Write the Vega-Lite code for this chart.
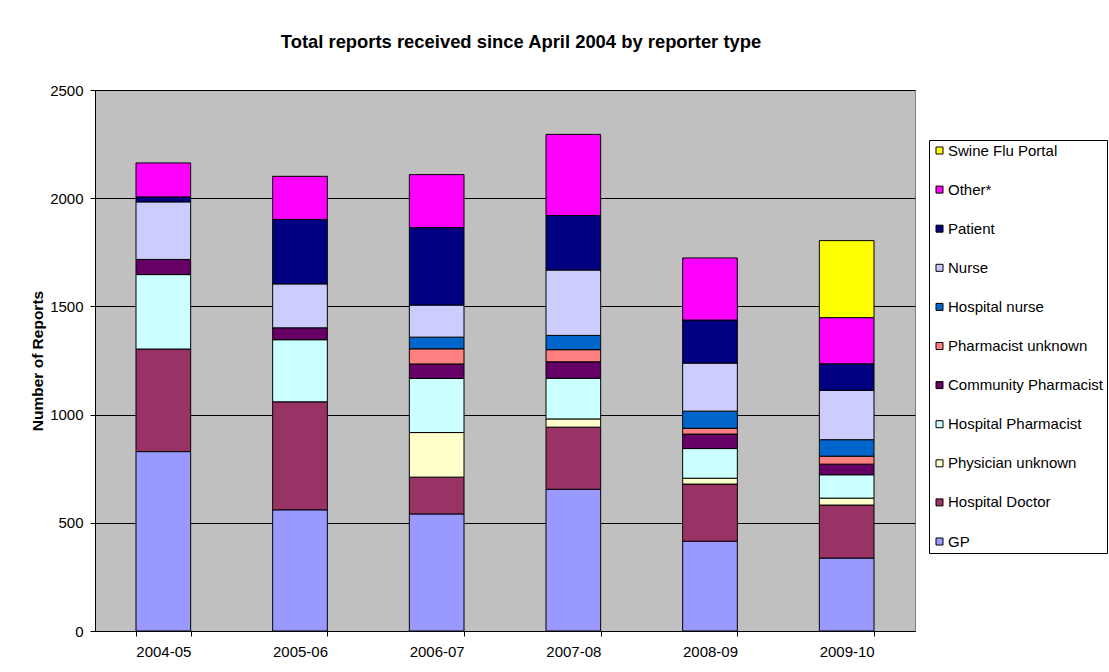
{
  "$schema": "https://vega.github.io/schema/vega-lite/v6.json",
  "width": 820,
  "height": 541,
  "autosize": {"type": "none"},
  "padding": {"left": 95, "top": 90, "right": 194, "bottom": 41},
  "background": "white",
  "title": {
    "text": "Total reports received since April 2004 by reporter type",
    "font": "Liberation Sans",
    "fontSize": 18.4,
    "fontWeight": "bold",
    "color": "black",
    "anchor": "middle",
    "offset": 32,
    "dx": 16
  },
  "datasets": {
    "types": [
      {"type": "GP", "rank": 1},
      {"type": "Hospital Doctor", "rank": 2},
      {"type": "Physician unknown", "rank": 3},
      {"type": "Hospital Pharmacist", "rank": 4},
      {"type": "Community Pharmacist", "rank": 5},
      {"type": "Pharmacist unknown", "rank": 6},
      {"type": "Hospital nurse", "rank": 7},
      {"type": "Nurse", "rank": 8},
      {"type": "Patient", "rank": 9},
      {"type": "Other*", "rank": 10},
      {"type": "Swine Flu Portal", "rank": 11}
    ]
  },
  "data": {
    "values": [
      {"year": "2004-05", "type": "GP", "n": 829},
      {"year": "2004-05", "type": "Hospital Doctor", "n": 474},
      {"year": "2004-05", "type": "Hospital Pharmacist", "n": 344},
      {"year": "2004-05", "type": "Community Pharmacist", "n": 70},
      {"year": "2004-05", "type": "Nurse", "n": 266},
      {"year": "2004-05", "type": "Patient", "n": 23},
      {"year": "2004-05", "type": "Other*", "n": 157},
      {"year": "2005-06", "type": "GP", "n": 560},
      {"year": "2005-06", "type": "Hospital Doctor", "n": 499},
      {"year": "2005-06", "type": "Hospital Pharmacist", "n": 287},
      {"year": "2005-06", "type": "Community Pharmacist", "n": 55},
      {"year": "2005-06", "type": "Nurse", "n": 203},
      {"year": "2005-06", "type": "Patient", "n": 298},
      {"year": "2005-06", "type": "Other*", "n": 199},
      {"year": "2006-07", "type": "GP", "n": 541},
      {"year": "2006-07", "type": "Hospital Doctor", "n": 170},
      {"year": "2006-07", "type": "Physician unknown", "n": 206},
      {"year": "2006-07", "type": "Hospital Pharmacist", "n": 250},
      {"year": "2006-07", "type": "Community Pharmacist", "n": 67},
      {"year": "2006-07", "type": "Pharmacist unknown", "n": 70},
      {"year": "2006-07", "type": "Hospital nurse", "n": 54},
      {"year": "2006-07", "type": "Nurse", "n": 148},
      {"year": "2006-07", "type": "Patient", "n": 358},
      {"year": "2006-07", "type": "Other*", "n": 245},
      {"year": "2007-08", "type": "GP", "n": 655},
      {"year": "2007-08", "type": "Hospital Doctor", "n": 287},
      {"year": "2007-08", "type": "Physician unknown", "n": 38},
      {"year": "2007-08", "type": "Hospital Pharmacist", "n": 188},
      {"year": "2007-08", "type": "Community Pharmacist", "n": 76},
      {"year": "2007-08", "type": "Pharmacist unknown", "n": 56},
      {"year": "2007-08", "type": "Hospital nurse", "n": 66},
      {"year": "2007-08", "type": "Nurse", "n": 302},
      {"year": "2007-08", "type": "Patient", "n": 252},
      {"year": "2007-08", "type": "Other*", "n": 375},
      {"year": "2008-09", "type": "GP", "n": 415},
      {"year": "2008-09", "type": "Hospital Doctor", "n": 264},
      {"year": "2008-09", "type": "Physician unknown", "n": 27},
      {"year": "2008-09", "type": "Hospital Pharmacist", "n": 137},
      {"year": "2008-09", "type": "Community Pharmacist", "n": 67},
      {"year": "2008-09", "type": "Pharmacist unknown", "n": 27},
      {"year": "2008-09", "type": "Hospital nurse", "n": 79},
      {"year": "2008-09", "type": "Nurse", "n": 222},
      {"year": "2008-09", "type": "Patient", "n": 199},
      {"year": "2008-09", "type": "Other*", "n": 287},
      {"year": "2009-10", "type": "GP", "n": 337},
      {"year": "2009-10", "type": "Hospital Doctor", "n": 245},
      {"year": "2009-10", "type": "Physician unknown", "n": 32},
      {"year": "2009-10", "type": "Hospital Pharmacist", "n": 108},
      {"year": "2009-10", "type": "Community Pharmacist", "n": 49},
      {"year": "2009-10", "type": "Pharmacist unknown", "n": 37},
      {"year": "2009-10", "type": "Hospital nurse", "n": 76},
      {"year": "2009-10", "type": "Nurse", "n": 228},
      {"year": "2009-10", "type": "Patient", "n": 123},
      {"year": "2009-10", "type": "Other*", "n": 213},
      {"year": "2009-10", "type": "Swine Flu Portal", "n": 356}
    ]
  },
  "transform": [
    {"lookup": "type", "from": {"data": {"name": "types"}, "key": "type", "fields": ["rank"]}}
  ],
  "mark": {"type": "bar", "stroke": "black", "strokeWidth": 1, "opacity": 1},
  "encoding": {
    "x": {
      "field": "year",
      "type": "nominal",
      "scale": {"paddingInner": 0.6, "paddingOuter": 0.3},
      "axis": {
        "title": null,
        "labelAngle": 0,
        "labelFont": "Liberation Sans",
        "labelFontSize": 15,
        "labelColor": "black",
        "labelPadding": 8,
        "tickBand": "extent",
        "tickSize": 5,
        "tickColor": "#000000",
        "domainColor": "#000000",
        "grid": false
      }
    },
    "y": {
      "field": "n",
      "type": "quantitative",
      "stack": "zero",
      "scale": {"domain": [0, 2500], "nice": false},
      "axis": {
        "title": "Number of Reports",
        "titleFont": "Liberation Sans",
        "titleFontSize": 15.5,
        "titleFontWeight": "bold",
        "titleColor": "black",
        "titleX": -50,
        "values": [0, 500, 1000, 1500, 2000, 2500],
        "format": "d",
        "labelFont": "Liberation Sans",
        "labelFontSize": 15,
        "labelColor": "black",
        "labelPadding": 7,
        "tickSize": 5,
        "tickColor": "#000000",
        "domainColor": "#000000",
        "grid": true,
        "gridColor": "#000000",
        "gridWidth": 1
      }
    },
    "color": {
      "field": "type",
      "type": "nominal",
      "scale": {
        "domain": ["Swine Flu Portal", "Other*", "Patient", "Nurse", "Hospital nurse", "Pharmacist unknown", "Community Pharmacist", "Hospital Pharmacist", "Physician unknown", "Hospital Doctor", "GP"],
        "range": ["#FFFF00", "#FF00FF", "#000080", "#CCCCFF", "#0066CC", "#FF8080", "#660066", "#CCFFFF", "#FFFFCC", "#993366", "#9999FF"]
      },
      "legend": {
        "title": null,
        "orient": "none",
        "legendX": 834,
        "legendY": 50,
        "padding": 3,
        "strokeColor": "#000000",
        "fillColor": "white",
        "symbolType": "square",
        "symbolSize": 49,
        "symbolStrokeColor": "#000000",
        "symbolStrokeWidth": 1,
        "symbolOpacity": 1,
        "labelFont": "Liberation Sans",
        "labelFontSize": 15,
        "labelColor": "black",
        "labelOffset": 1,
        "labelLimit": 300,
        "rowPadding": 23.1
      }
    },
    "order": {"field": "rank", "type": "quantitative", "sort": "ascending"}
  },
  "config": {
    "view": {"fill": "#C0C0C0", "stroke": "#808080", "strokeWidth": 1}
  }
}
